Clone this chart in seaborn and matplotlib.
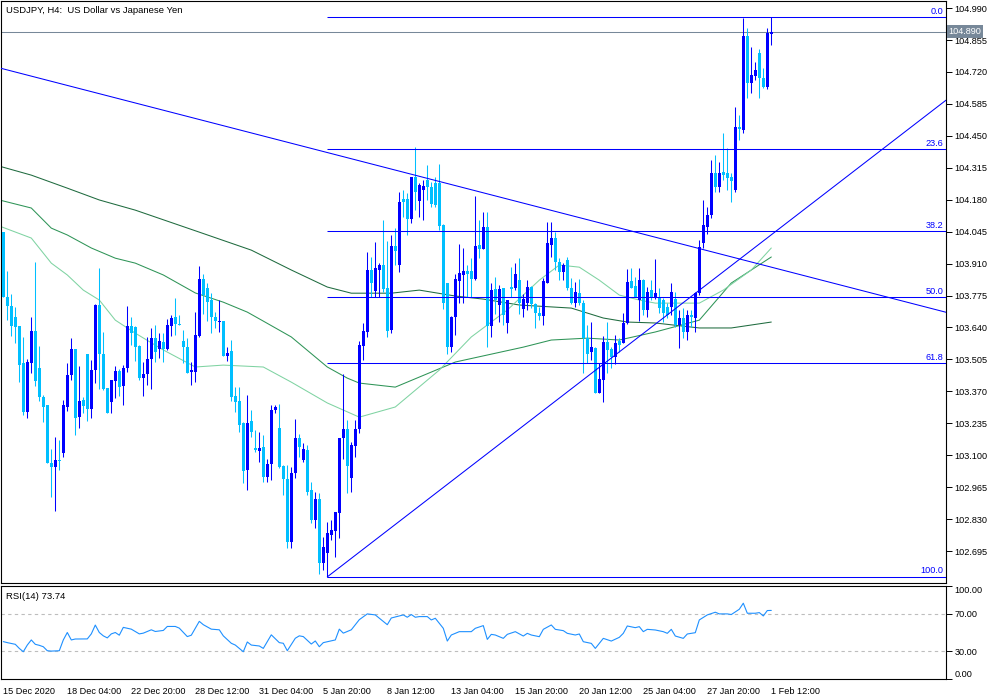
import numpy as np
import pandas as pd
import seaborn as sns
import matplotlib.pyplot as plt

sns.set_theme(style='white')
plt.rcParams['font.family'] = ['Liberation Sans', 'DejaVu Sans']

# USDJPY H4 candles, bar 0 = 15 Dec 2020 12:00
opens = [104.045, 103.770, 103.731, 103.685, 103.646, 103.488, 103.284, 103.491, 103.625, 103.467,
         103.347, 103.312, 103.068, 103.051, 103.080, 103.111, 103.305, 103.439, 103.549, 103.263,
         103.333, 103.528, 103.295, 103.460, 103.735, 103.528, 103.385, 103.323, 103.415, 103.457,
         103.394, 103.467, 103.646, 103.643, 103.563, 103.427, 103.443, 103.505, 103.594, 103.547,
         103.580, 103.549, 103.646, 103.685, 103.654, 103.584, 103.558, 103.451, 103.453, 103.605,
         103.847, 103.805, 103.756, 103.685, 103.663, 103.667, 103.519, 103.540, 103.351, 103.329,
         103.237, 103.037, 103.244, 103.129, 103.119, 103.136, 103.009, 103.062, 103.291, 103.216,
         103.054, 102.999, 102.734, 103.023, 103.174, 103.079, 103.122, 102.953, 102.826, 102.915,
         102.643, 102.685, 102.762, 102.781, 102.857, 103.171, 103.213, 103.002, 103.139, 103.209,
         103.563, 103.622, 103.883, 103.794, 103.885, 103.904, 103.808, 103.629, 103.984, 103.904,
         104.185, 104.185, 104.098, 104.277, 104.174, 104.223, 104.263, 104.235, 104.252, 104.252,
         104.073, 103.826, 103.558, 103.685, 103.837, 103.861, 103.878, 103.878, 103.843, 103.988,
         103.971, 104.063, 103.647, 103.801, 103.737, 103.805, 103.657, 103.812, 103.805, 103.840,
         103.720, 103.742, 103.810, 103.739, 103.703, 103.689, 103.830, 103.989, 104.017, 103.916,
         103.876, 103.925, 103.805, 103.742, 103.784, 103.742, 103.594, 103.538, 103.555, 103.365,
         103.418, 103.580, 103.549, 103.514, 103.584, 103.576, 103.658, 103.837, 103.815, 103.756,
         103.841, 103.714, 103.798, 103.767, 103.763, 103.756, 103.728, 103.728, 103.759, 103.650,
         103.678, 103.622, 103.693, 103.678, 103.784, 103.996, 104.063, 104.115, 104.292, 104.235,
         104.299, 104.292, 104.277, 104.221, 104.489, 104.475, 104.872, 104.672, 104.703, 104.799,
         104.693, 104.655, 104.881]
highs = [104.045, 103.880, 103.781, 103.728, 103.646, 103.601, 103.505, 103.685, 103.918, 103.562,
         103.354, 103.312, 103.126, 103.178, 103.164, 103.333, 103.488, 103.597, 103.549, 103.477,
         103.347, 103.528, 103.502, 103.739, 103.893, 103.621, 103.385, 103.418, 103.477, 103.463,
         103.481, 103.731, 103.685, 103.646, 103.565, 103.495, 103.598, 103.636, 103.650, 103.615,
         103.615, 103.675, 103.692, 103.763, 103.692, 103.629, 103.594, 103.495, 103.706, 103.899,
         103.868, 103.830, 103.784, 103.706, 103.758, 103.667, 103.556, 103.589, 103.389, 103.389,
         103.241, 103.354, 103.291, 103.206, 103.199, 103.185, 103.086, 103.312, 103.312, 103.316,
         103.058, 103.058, 103.051, 103.253, 103.189, 103.150, 103.143, 102.988, 102.946, 102.939,
         102.755, 102.819, 102.826, 102.861, 103.174, 103.443, 103.251, 103.157, 103.251, 103.582,
         103.657, 103.960, 103.939, 104.002, 103.914, 104.094, 104.005, 104.031, 104.062, 104.214,
         104.221, 104.207, 104.277, 104.401, 104.249, 104.263, 104.326, 104.256, 104.277, 104.333,
         104.076, 103.826, 103.688, 103.868, 103.995, 103.978, 103.904, 103.932, 104.195, 104.094,
         104.129, 104.129, 103.826, 103.852, 103.819, 103.805, 103.756, 103.897, 103.911, 103.932,
         103.781, 103.841, 103.815, 103.742, 103.728, 103.848, 104.087, 104.087, 104.045, 103.932,
         103.911, 103.939, 103.848, 103.833, 103.844, 103.756, 103.651, 103.665, 103.559, 103.489,
         103.604, 103.665, 103.559, 103.608, 103.594, 103.700, 103.886, 103.890, 103.852, 103.890,
         103.844, 103.813, 103.841, 103.930, 103.805, 103.763, 103.745, 103.826, 103.790, 103.714,
         103.721, 103.714, 103.714, 103.791, 104.010, 104.179, 104.151, 104.348, 104.369, 104.341,
         104.461, 104.397, 104.292, 104.571, 104.538, 104.947, 104.905, 104.827, 104.764, 104.816,
         104.735, 104.905, 104.952]
lows = [103.770, 103.671, 103.605, 103.573, 103.411, 103.270, 103.256, 103.446, 103.394, 103.330,
        103.242, 103.066, 102.925, 102.865, 103.037, 103.091, 103.287, 103.418, 103.185, 103.216,
        103.277, 103.246, 103.256, 103.404, 103.378, 103.376, 103.277, 103.277, 103.340, 103.350,
        103.312, 103.453, 103.566, 103.500, 103.417, 103.351, 103.399, 103.382, 103.495, 103.509,
        103.495, 103.544, 103.605, 103.608, 103.650, 103.488, 103.446, 103.396, 103.410, 103.601,
        103.699, 103.667, 103.618, 103.636, 103.622, 103.520, 103.498, 103.330, 103.284, 103.199,
        102.981, 102.953, 103.178, 103.115, 103.072, 102.985, 102.988, 102.995, 103.277, 103.044,
        102.932, 102.706, 102.706, 103.002, 103.094, 103.072, 102.932, 102.812, 102.791, 102.600,
        102.617, 102.586, 102.741, 102.671, 102.751, 103.086, 102.939, 102.946, 103.091, 103.192,
        103.502, 103.601, 103.770, 103.767, 103.767, 103.791, 103.601, 103.618, 103.904, 103.875,
        104.108, 104.030, 104.080, 104.136, 104.108, 104.094, 104.178, 104.150, 104.150, 104.052,
        103.720, 103.530, 103.537, 103.608, 103.742, 103.742, 103.770, 103.770, 103.840, 103.932,
        103.971, 103.558, 103.601, 103.697, 103.664, 103.650, 103.615, 103.770, 103.798, 103.699,
        103.685, 103.714, 103.721, 103.637, 103.672, 103.651, 103.827, 103.939, 103.883, 103.841,
        103.841, 103.799, 103.740, 103.727, 103.735, 103.446, 103.489, 103.503, 103.365, 103.362,
        103.324, 103.446, 103.467, 103.484, 103.538, 103.573, 103.655, 103.806, 103.770, 103.669,
        103.693, 103.686, 103.755, 103.760, 103.700, 103.664, 103.680, 103.693, 103.640, 103.552,
        103.594, 103.587, 103.643, 103.622, 103.777, 103.975, 104.035, 104.101, 104.214, 104.214,
        104.263, 104.221, 104.172, 104.214, 104.432, 104.461, 104.611, 104.630, 104.686, 104.609,
        104.651, 104.648, 104.834]
closes = [103.770, 103.731, 103.646, 103.643, 103.481, 103.284, 103.495, 103.625, 103.415, 103.347,
          103.305, 103.066, 103.051, 103.080, 103.077, 103.312, 103.439, 103.549, 103.259, 103.330,
          103.308, 103.295, 103.460, 103.735, 103.528, 103.380, 103.280, 103.418, 103.457, 103.390,
          103.467, 103.646, 103.615, 103.559, 103.427, 103.443, 103.506, 103.594, 103.537, 103.582,
          103.551, 103.650, 103.678, 103.653, 103.651, 103.558, 103.448, 103.460, 103.608, 103.847,
          103.777, 103.749, 103.685, 103.668, 103.667, 103.520, 103.533, 103.347, 103.326, 103.227,
          103.034, 103.238, 103.199, 103.122, 103.130, 103.009, 103.063, 103.291, 103.302, 103.051,
          102.999, 102.734, 103.023, 103.174, 103.136, 103.125, 102.946, 102.826, 102.917, 102.643,
          102.713, 102.772, 102.786, 102.861, 103.174, 103.209, 103.055, 103.143, 103.213, 103.566,
          103.625, 103.883, 103.826, 103.892, 103.904, 103.801, 103.626, 103.984, 103.963, 104.171,
          104.171, 104.098, 104.274, 104.214, 104.242, 104.238, 104.235, 104.160, 104.157, 104.070,
          103.744, 103.556, 103.685, 103.843, 103.871, 103.878, 103.868, 103.843, 103.984, 103.971,
          104.063, 103.647, 103.798, 103.756, 103.801, 103.692, 103.756, 103.801, 103.864, 103.742,
          103.759, 103.810, 103.739, 103.700, 103.689, 103.837, 103.996, 104.017, 103.916, 103.876,
          103.904, 103.805, 103.742, 103.791, 103.742, 103.594, 103.530, 103.559, 103.361, 103.422,
          103.580, 103.545, 103.514, 103.576, 103.566, 103.660, 103.834, 103.806, 103.770, 103.841,
          103.714, 103.791, 103.767, 103.784, 103.721, 103.700, 103.693, 103.791, 103.650, 103.678,
          103.622, 103.693, 103.683, 103.787, 103.979, 104.073, 104.115, 104.292, 104.235, 104.294,
          104.285, 104.270, 104.261, 104.486, 104.478, 104.872, 104.675, 104.707, 104.728, 104.693,
          104.658, 104.883, 104.890]

# moving averages (bar index, price)
ma_slow_bars = [-1, 7, 16, 24, 33, 49, 62, 72, 81, 87, 97, 104, 113, 120, 129, 142, 150, 156, 163, 174, 182, 192]
ma_slow = [104.322, 104.284, 104.229, 104.179, 104.136, 104.043, 103.967, 103.883, 103.811, 103.785, 103.785,
           103.798, 103.773, 103.760, 103.735, 103.722, 103.680, 103.663, 103.659, 103.638, 103.638, 103.663]
ma_mid_bars = [-1, 7, 12, 16, 22, 28, 33, 40, 48, 55, 61, 65, 72, 81, 86, 89, 98, 113, 130, 137, 146, 154,
               163, 174, 182, 192]
ma_mid = [104.179, 104.145, 104.060, 104.031, 103.976, 103.933, 103.912, 103.862, 103.786, 103.747, 103.705,
          103.667, 103.600, 103.473, 103.426, 103.405, 103.388, 103.494, 103.557, 103.587, 103.595, 103.587,
          103.621, 103.671, 103.828, 103.938]
ma_fast_bars = [-1, 7, 12, 16, 20, 24, 28, 33, 40, 48, 55, 65, 72, 81, 89, 98, 109, 117, 126, 130, 134, 139,
                144, 149, 154, 159, 163, 168, 174, 180, 187, 192]
ma_fast = [104.069, 104.018, 103.912, 103.862, 103.798, 103.756, 103.671, 103.616, 103.545, 103.473, 103.481,
           103.473, 103.409, 103.321, 103.261, 103.304, 103.460, 103.600, 103.714, 103.777, 103.840, 103.904,
           103.895, 103.840, 103.777, 103.756, 103.743, 103.743, 103.743, 103.798, 103.883, 103.976]

# RSI(14)
rsi_bars = [0, 1, 3, 4, 5, 6, 7, 8, 9, 10, 11, 12, 14, 15, 16, 17, 18, 21, 22, 23, 24, 25, 26, 27, 28, 29,
            30, 32, 34, 35, 37, 38, 40, 41, 43, 44, 46, 47, 49, 50, 52, 54, 55, 57, 58, 60, 61, 62, 64, 65,
            67, 69, 70, 71, 73, 74, 75, 77, 78, 79, 80, 83, 84, 85, 87, 89, 91, 93, 96, 97, 100, 101, 102,
            103, 104, 106, 107, 108, 110, 111, 112, 114, 117, 118, 120, 121, 122, 123, 125, 126, 128, 130,
            131, 132, 134, 135, 137, 138, 140, 141, 143, 144, 145, 147, 148, 150, 152, 154, 155, 156, 158,
            159, 160, 161, 163, 165, 166, 167, 168, 170, 171, 173, 174, 176, 178, 179, 181, 182, 184, 185,
            186, 188, 189, 190, 191, 192]
rsi_vals = [40.2, 39.1, 37.3, 32.9, 29.3, 36.5, 42.0, 37.3, 36.2, 34.7, 30.4, 30.0, 30.4, 42.0, 50.0, 42.0,
            43.0, 43.1, 48.5, 58.0, 50.0, 46.4, 44.2, 48.5, 50.0, 47.1, 55.5, 53.6, 48.5, 49.3, 52.9, 51.1,
            52.2, 56.5, 56.5, 54.7, 45.6, 47.1, 62.0, 58.4, 53.6, 52.9, 46.4, 38.4, 36.5, 29.3, 39.8, 36.5,
            35.5, 32.9, 47.5, 39.1, 38.4, 30.4, 43.8, 46.4, 45.6, 37.6, 40.9, 34.7, 39.1, 42.0, 53.6, 49.3,
            52.9, 63.8, 70.0, 68.9, 58.4, 65.6, 68.9, 66.4, 69.3, 66.4, 67.1, 67.1, 63.5, 65.3, 54.5, 40.8,
            47.3, 50.9, 50.9, 54.5, 57.4, 42.6, 48.0, 47.3, 43.7, 48.0, 50.9, 46.2, 49.1, 47.3, 45.5, 53.4,
            58.1, 53.4, 52.0, 49.1, 47.3, 48.4, 40.1, 38.3, 32.9, 43.7, 40.8, 44.8, 49.1, 57.0, 55.2, 56.3,
            50.9, 53.4, 52.7, 50.9, 49.1, 53.4, 46.2, 43.7, 48.4, 49.8, 63.5, 68.9, 71.8, 70.0, 70.0, 69.3,
            75.0, 81.5, 70.7, 70.7, 71.4, 67.8, 73.6, 73.74]

# drawings
fib_ratios = [0.0, 23.6, 38.2, 50.0, 61.8, 100.0]
fib_high, fib_low, fib_start = 104.952, 102.586, 81
down_line = [(0, 104.733), (192, 103.895)]
up_line = [(81, 102.586), (160, 103.615)]
last_price = 104.890

price_tick_labels = ['104.990', '104.855', '104.720', '104.585', '104.450', '104.315', '104.180', '104.045',
                     '103.910', '103.775', '103.640', '103.505', '103.370', '103.235', '103.100', '102.965',
                     '102.830', '102.695']
time_tick_bars = [0, 16, 32, 48, 64, 80, 96, 112, 128, 144, 160, 176, 192]
time_tick_labels = ['15 Dec 2020', '18 Dec 04:00', '22 Dec 20:00', '28 Dec 12:00', '31 Dec 04:00',
                    '5 Jan 20:00', '8 Jan 12:00', '13 Jan 04:00', '15 Jan 20:00', '20 Jan 12:00',
                    '25 Jan 04:00', '27 Jan 20:00', '1 Feb 12:00']

bull_color = '#0000ff'
bear_color = '#00bfff'
line_blue = '#0000ff'
FS = 6.6
LW = 0.75
XMIN, XMAX = -0.625, 235.675

fig = plt.figure(figsize=(10, 7), dpi=100)
ax = fig.add_axes([0.0008, 0.16714, 0.9452, 0.83143])
ax2 = fig.add_axes([0.0008, 0.03, 0.9452, 0.13286])

for a in (ax, ax2):
    a.set_facecolor('white')
    for s in a.spines.values():
        s.set_color('black')
        s.set_linewidth(0.8)
    a.set_xlim(XMIN, XMAX)
    a.yaxis.tick_right()
    a.tick_params(axis='y', direction='out', length=4, width=0.7, pad=2, labelsize=FS, colors='black')

# candles
df = pd.DataFrame({'open': opens, 'high': highs, 'low': lows, 'close': closes})
df['bar'] = np.arange(len(df))
cols = np.where(df['close'] >= df['open'], bull_color, bear_color)
ax.vlines(df['bar'], df['low'], df['high'], colors=cols, lw=LW, zorder=3)
body = np.maximum((df['close'] - df['open']).abs(), 0.004)
ax.bar(df['bar'], body, bottom=np.minimum(df['open'], df['close']), width=0.75,
       color=cols, linewidth=0, zorder=4)

# moving averages
sns.lineplot(x=ma_slow_bars, y=ma_slow, ax=ax, color='#1f6b3f', lw=LW, zorder=2)
sns.lineplot(x=ma_mid_bars, y=ma_mid, ax=ax, color='#2e9457', lw=LW, zorder=2)
sns.lineplot(x=ma_fast_bars, y=ma_fast, ax=ax, color='#7fd3a2', lw=LW, zorder=2)

# fibonacci retracement
for r in fib_ratios:
    lvl = fib_high - r / 100 * (fib_high - fib_low)
    ax.hlines(lvl, fib_start, XMAX, colors=line_blue, lw=LW, zorder=5)
    ax.annotate(f'{r:.1f}', xy=(0.997, lvl), xycoords=('axes fraction', 'data'),
                xytext=(0, 1), textcoords='offset points', ha='right', va='bottom',
                color=line_blue, fontsize=FS)

# trend lines
ax.axline(down_line[0], down_line[1], color=line_blue, lw=LW, zorder=5)
(b1, p1), (b2, p2) = up_line
slope = (p2 - p1) / (b2 - b1)
ax.plot([b1, XMAX], [p1, p1 + slope * (XMAX - b1)], color=line_blue, lw=LW, zorder=5)

# last price
ax.axhline(last_price, color='#778899', lw=LW, zorder=1)
ax.annotate(f'{last_price:.3f}', xy=(1, last_price), xycoords=('axes fraction', 'data'),
            xytext=(2, 0), textcoords='offset points', ha='left', va='center', color='white',
            fontsize=FS, zorder=10, annotation_clip=False,
            bbox=dict(boxstyle='square,pad=0.2', fc='#778899', ec='none'))

ax.set_ylim(102.560, 105.020)
ax.set_yticks([float(t) for t in price_tick_labels])
ax.set_yticklabels(price_tick_labels)
ax.set_xticks([])
ax.set_xlabel('')
ax.set_ylabel('')
ax.text(0.005, 0.9845, 'USDJPY, H4:  US Dollar vs Japanese Yen', transform=ax.transAxes,
        ha='left', va='center', fontsize=6.8, color='black')

# RSI panel
sns.lineplot(x=rsi_bars, y=rsi_vals, ax=ax2, color='#1e90ff', lw=0.8)
for lvl in (70, 30):
    ax2.axhline(lvl, color='#bdbdbd', lw=0.8, ls=(0, (3, 3)), zorder=1)
ax2.set_ylim(0, 100)
ax2.set_yticks([100, 70, 30, 0])
ax2.set_yticklabels(['100.00', '70.00', '30.00', '0.00'])
ylab = ax2.get_yticklabels()
ylab[0].set_va('top')
ylab[3].set_va('bottom')
ax2.set_xticks(time_tick_bars)
ax2.set_xticklabels(time_tick_labels, ha='left')
ax2.tick_params(axis='x', direction='out', length=4, width=0.7, pad=2, labelsize=FS, colors='black')
ax2.set_xlabel('')
ax2.set_ylabel('')
ax2.text(0.005, 0.89, 'RSI(14) 73.74', transform=ax2.transAxes, ha='left', va='center',
         fontsize=6.8, color='black')

fig.savefig('out.png', dpi=100)
